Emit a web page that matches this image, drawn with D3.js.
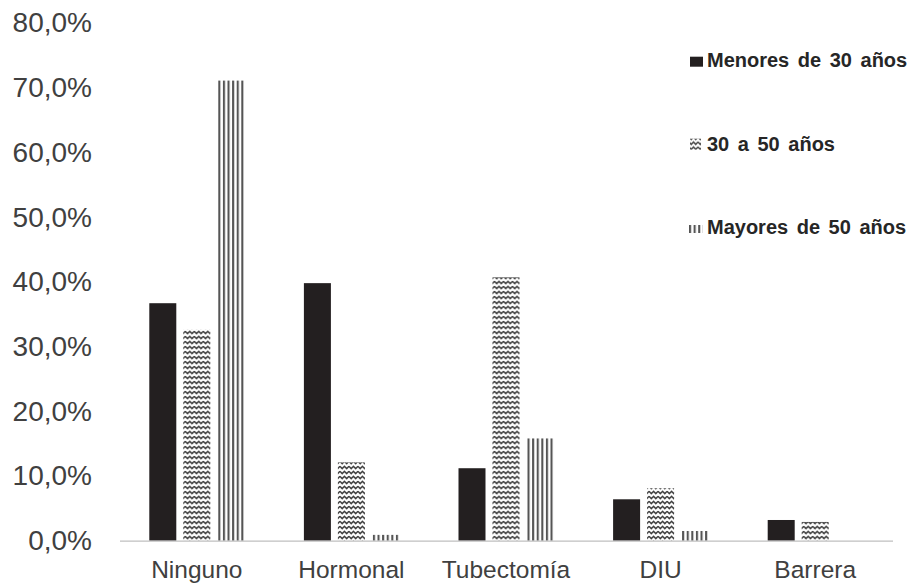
<!DOCTYPE html>
<html>
<head>
<meta charset="utf-8">
<script src="https://cdn.jsdelivr.net/npm/d3@7"></script>
<style>
  html, body { margin: 0; padding: 0; background: #fff; }
  svg { display: block; font-family: "Liberation Sans", Arial, sans-serif; }
</style>
</head>
<body>
<svg id="chart" width="909" height="583"></svg>
<script>
// Método anticonceptivo por grupo de edad (porcentaje)
const categories = ["Ninguno", "Hormonal", "Tubectomía", "DIU", "Barrera"];
const seriesNames = ["Menores de 30 años", "30 a 50 años", "Mayores de 50 años"];
const menores30 = [36.7, 39.8, 11.2, 6.4, 3.2];
const de30a50 = [32.6, 12.1, 40.7, 8.1, 2.9];
const mayores50 = [71.1, 0.9, 15.8, 1.5, 0.0];
const yTicks = [0, 10, 20, 30, 40, 50, 60, 70, 80];

const seriesValues = [menores30, de30a50, mayores50];
const fills = ["#231f20", "url(#zigzag)", "url(#vstripes)"];

const svg = d3.select("#chart");

// Fill patterns
const defs = svg.append("defs");
const zig = defs.append("pattern")
  .attr("id", "zigzag")
  .attr("patternUnits", "userSpaceOnUse")
  .attr("width", 9).attr("height", 5);
zig.append("rect").attr("width", 9).attr("height", 5).attr("fill", "#fff");
zig.append("path")
  .attr("d", "M0,1.2 L2.25,3.7 L4.5,1.2 L6.75,3.7 L9,1.2")
  .attr("fill", "none").attr("stroke", "#383838").attr("stroke-width", 1.4);

const vs = defs.append("pattern")
  .attr("id", "vstripes")
  .attr("patternUnits", "userSpaceOnUse")
  .attr("width", 4.6).attr("height", 10);
vs.append("rect").attr("width", 4.6).attr("height", 10).attr("fill", "#fff");
vs.append("rect").attr("x", 0).attr("width", 2.1).attr("height", 10).attr("fill", "#555");

// Scales
const x0 = d3.scaleBand()
  .domain(categories)
  .range([119.5, 892.5])
  .paddingInner(0.3855)
  .paddingOuter(0.19275);

const x1 = d3.scaleBand()
  .domain(d3.range(seriesNames.length))
  .range([0, x0.bandwidth()])
  .paddingInner(0.206);

const y = d3.scaleLinear().domain([0, 80]).range([540.7, 23]);

// Y axis labels
const yAxis = svg.append("g")
  .attr("transform", "translate(119,0)")
  .call(d3.axisLeft(y).tickValues(yTicks).tickSize(0).tickPadding(27)
    .tickFormat(d => d3.format(".1f")(d).replace(".", ",") + "%"));
yAxis.select(".domain").remove();
yAxis.selectAll("text")
  .attr("font-family", "Liberation Sans, Arial, sans-serif")
  .attr("font-size", 28)
  .attr("fill", "#404040");

// Bars
const groups = svg.append("g").selectAll("g")
  .data(categories)
  .join("g")
  .attr("transform", d => `translate(${x0(d)},0)`);

groups.selectAll("rect")
  .data((d, i) => seriesValues.map((vals, s) => ({ s, v: vals[i] })))
  .join("rect")
  .filter(d => d.v > 0)
  .attr("x", d => x1(d.s))
  .attr("width", x1.bandwidth())
  .attr("y", d => y(d.v))
  .attr("height", d => y(0) - y(d.v))
  .attr("fill", d => fills[d.s]);

// X axis
const xAxis = svg.append("g")
  .attr("transform", `translate(0,${y(0)})`)
  .call(d3.axisBottom(x0).tickSize(0).tickSizeOuter(0).tickPadding(20));
xAxis.select(".domain").attr("stroke", "#bfbfbf").attr("stroke-width", 1.3);
xAxis.selectAll("text")
  .attr("font-family", "Liberation Sans, Arial, sans-serif")
  .attr("font-size", 24.5)
  .attr("fill", "#404040");

// Legend
const legend = svg.append("g").attr("transform", "translate(689,0)");
const legendY = [66.7, 150.7, 234];
const items = legend.selectAll("g")
  .data(seriesNames)
  .join("g")
  .attr("transform", (d, i) => `translate(0,${legendY[i]})`);

items.each(function(d, i) {
  const g = d3.select(this);
  if (i === 0) {
    g.append("rect").attr("x", 1).attr("y", -10).attr("width", 13).attr("height", 10).attr("fill", "#231f20");
  } else if (i === 1) {
    g.append("rect").attr("x", 1).attr("y", -12).attr("width", 11).attr("height", 11).attr("fill", "url(#zigzag)");
  } else {
    g.append("rect").attr("x", 0).attr("y", -9).attr("width", 14).attr("height", 8).attr("fill", "url(#vstripes)");
  }
  g.append("text")
    .attr("x", 18)
    .attr("y", 0)
    .attr("font-size", 20)
    .attr("font-weight", "bold")
    .attr("word-spacing", 3)
    .attr("fill", "#262626")
    .text(d);
});
</script>
</body>
</html>
